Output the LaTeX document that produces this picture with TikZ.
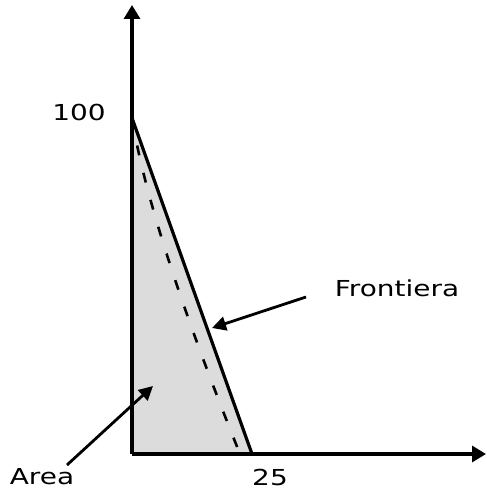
\documentclass[tikz,border=0pt]{standalone}
\usepackage{fontspec}
\setmainfont{DejaVu Sans}
\usetikzlibrary{arrows.meta}
\definecolor{areagray}{RGB}{220,220,220}
\tikzset{
  axis/.style={line width=1.6pt, -{Triangle[length=7pt,width=8pt]}},
  pointer/.style={line width=1.4pt, -{Triangle[length=7pt,width=7pt]}},
  frontier/.style={line width=1.6pt},
  inner/.style={line width=1.3pt, dash pattern=on 5pt off 9pt},
  lab/.style={xscale=1.27, inner sep=0pt},
}
\begin{document}
\begin{tikzpicture}[x=0.5pt,y=-0.5pt, font=\fontsize{11}{13}\selectfont]
\useasboundingbox (0,0) rectangle (486,490);

% ===== points =====
\coordinate (O) at (132,454);
\coordinate (ytop) at (132,5);
\coordinate (xend) at (486,454);
\coordinate (P100) at (132,118);
\coordinate (P25) at (252,454);

% ===== region =====
\fill[areagray] (O) -- (P100) -- (P25) -- cycle;
\draw[inner] (P100) .. controls (144,193) and (180,305) .. (240,454);
\draw[frontier] (P100) -- (P25);

% ===== axes =====
\draw[axis] (O) -- (ytop);
\draw[axis] (O) -- (xend);

% ===== labels =====
\node[lab] (lab100) at (79,112) {100};
\node[lab] (lab25) at (270,477) {25};
\node[lab] (labfront) at (397,288) {Frontiera};
\node[lab] (labarea) at (42,477) {Area};

% ===== pointers =====
\coordinate (ftail) at (306,297);
\coordinate (fhead) at (212,328);
\coordinate (atail) at (67,465);
\coordinate (ahead) at (153,386);
\draw[pointer] (ftail) -- (fhead);
\draw[pointer] (atail) -- (ahead);

\end{tikzpicture}
\end{document}
